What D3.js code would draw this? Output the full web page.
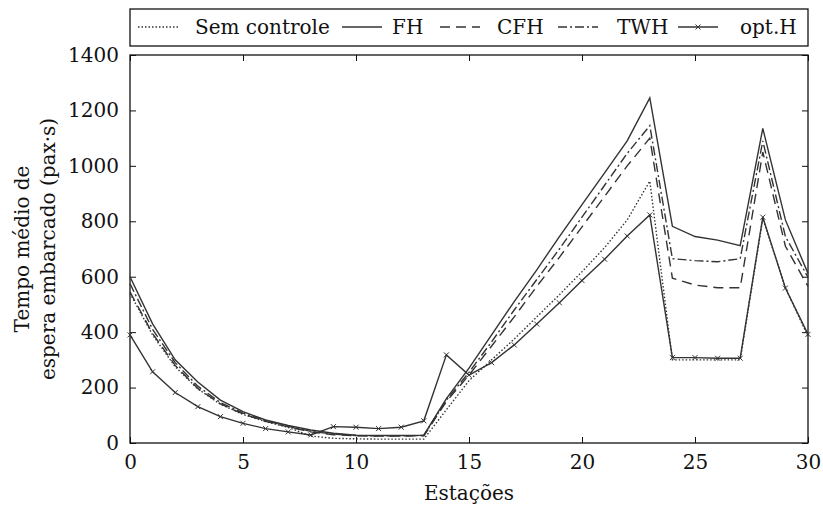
<!DOCTYPE html>
<html>
<head>
<meta charset="utf-8">
<script src="https://cdn.jsdelivr.net/npm/d3@7"></script>
<style>
  body { margin: 0; background: #fff; }
</style>
</head>
<body>
<svg id="chart" width="823" height="506"></svg>
<script>
// Stations 0..30 and mean waiting time for each control strategy
const stations = d3.range(0, 31);
const semControle = [540, 390, 275, 195, 140, 103, 77, 56, 25, 17, 15, 14, 14, 14, 120, 225, 300, 375, 455, 535, 618, 705, 805, 945, 300, 300, 300, 300, 810, 560, 385];
const fh          = [600, 430, 300, 220, 155, 113, 83, 63, 47, 35, 28, 27, 27, 28, 160, 270, 390, 510, 625, 745, 860, 975, 1090, 1245, 782, 745, 732, 712, 1135, 805, 612];
const cfh         = [545, 395, 280, 197, 141, 105, 78, 58, 40, 30, 26, 25, 25, 26, 150, 245, 350, 455, 565, 670, 780, 890, 1000, 1100, 595, 570, 560, 560, 1050, 710, 565];
const twh         = [575, 410, 290, 205, 146, 108, 80, 60, 42, 32, 27, 26, 26, 27, 155, 255, 365, 480, 590, 700, 815, 930, 1045, 1145, 665, 658, 654, 665, 1090, 745, 598];
const optH        = [390, 257, 182, 131, 95, 71, 52, 40, 29, 59, 57, 52, 57, 80, 318, 245, 290, 354, 429, 506, 586, 663, 747, 823, 308, 308, 306, 306, 815, 559, 392];

const xTicks = [0, 5, 10, 15, 20, 25, 30];
const yTicks = [0, 200, 400, 600, 800, 1000, 1200, 1400];

const series = [
  { name: "Sem controle", values: semControle, dash: "1.5,2" },
  { name: "FH",           values: fh,          dash: null },
  { name: "CFH",          values: cfh,         dash: "10,6" },
  { name: "TWH",          values: twh,         dash: "9,3,2,3" },
  { name: "opt.H",        values: optH,        dash: null, marker: true }
];

const svg = d3.select("#chart");
const m = { left: 130, right: 808, top: 55, bottom: 443 };
const ink = "#333";
const fs = 20;
const serif = "'DejaVu Serif', 'Liberation Serif', 'Noto Serif', serif";

const x = d3.scaleLinear().domain([0, 30]).range([m.left, m.right]);
const y = d3.scaleLinear().domain([0, 1400]).range([m.bottom, m.top]);

// axes with inward ticks on all four sides
const tl = 6;
svg.append("g").attr("transform", `translate(0,${m.bottom})`)
  .call(d3.axisBottom(x).tickValues(xTicks).tickSize(-tl).tickPadding(12).tickFormat(d3.format("d")));
svg.append("g").attr("transform", `translate(0,${m.top})`)
  .call(d3.axisTop(x).tickValues(xTicks).tickSize(-tl).tickFormat(""));
svg.append("g").attr("transform", `translate(${m.left},0)`)
  .call(d3.axisLeft(y).tickValues(yTicks).tickSize(-tl).tickPadding(11).tickFormat(d3.format("d")));
svg.append("g").attr("transform", `translate(${m.right},0)`)
  .call(d3.axisRight(y).tickValues(yTicks).tickSize(-tl).tickFormat(""));
svg.selectAll(".domain").remove();
svg.selectAll(".tick line").attr("stroke", "#111").attr("stroke-width", 1);

svg.append("rect")
  .attr("x", m.left).attr("y", m.top)
  .attr("width", m.right - m.left).attr("height", m.bottom - m.top)
  .attr("fill", "none").attr("stroke", "#111").attr("stroke-width", 1.3);

// lines
const line = d3.line().x((d, i) => x(stations[i])).y(d => y(d));
const crossPath = s => `M${-s},${-s}L${s},${s}M${-s},${s}L${s},${-s}`;

series.forEach(s => {
  svg.append("path")
    .attr("d", line(s.values))
    .attr("fill", "none")
    .attr("stroke", ink)
    .attr("stroke-width", 1.4)
    .attr("stroke-dasharray", s.dash);
  if (s.marker) {
    svg.append("g").selectAll("path")
      .data(s.values)
      .join("path")
        .attr("transform", (d, i) => `translate(${x(stations[i])},${y(d)})`)
        .attr("d", crossPath(2.5))
        .attr("stroke", ink)
        .attr("stroke-width", 1);
  }
});

// legend
svg.append("rect")
  .attr("x", m.left).attr("y", 9).attr("width", m.right - m.left).attr("height", 37)
  .attr("fill", "#fff").attr("stroke", "#111").attr("stroke-width", 1.3);
const legendX = [{ l: 138, t: 195 }, { l: 342, t: 392 }, { l: 440, t: 497 }, { l: 558, t: 617 }, { l: 678, t: 740 }];
series.forEach((s, i) => {
  const p = legendX[i];
  svg.append("line")
    .attr("x1", p.l).attr("x2", p.l + 40).attr("y1", 27).attr("y2", 27)
    .attr("stroke", ink).attr("stroke-width", 1.4).attr("stroke-dasharray", s.dash);
  if (s.marker) {
    svg.append("path").attr("transform", `translate(${p.l + 20},27)`)
      .attr("d", crossPath(2.5)).attr("stroke", ink).attr("stroke-width", 1);
  }
  svg.append("text").attr("x", p.t).attr("y", 34).text(s.name);
});

// axis titles
svg.append("text")
  .attr("x", (m.left + m.right) / 2).attr("y", 500)
  .attr("text-anchor", "middle").text("Estações");
const yt = svg.append("text")
  .attr("transform", `translate(29,249) rotate(-90)`)
  .attr("text-anchor", "middle");
yt.append("tspan").attr("x", 0).attr("dy", 0).text("Tempo médio de");
yt.append("tspan").attr("x", 0).attr("dy", 26).text("espera embarcado (pax·s)");

svg.selectAll("text")
  .style("font-family", serif)
  .style("font-size", fs + "px")
  .style("fill", "#111");
</script>
</body>
</html>
